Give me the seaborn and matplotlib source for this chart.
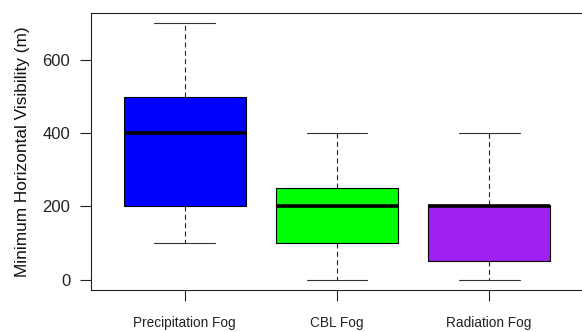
import matplotlib
matplotlib.use("Agg")
import matplotlib.pyplot as plt
import numpy as np
import pandas as pd
import seaborn as sns

# five-number summaries: min, Q1, median, Q3, max
categories = ["Precipitation Fog", "CBL Fog", "Radiation Fog"]
precip_vals = [100, 200, 400, 500, 700]
cbl_vals = [0, 100, 200, 250, 400]
radiation_vals = [0, 50, 200, 205, 400]
colors = ["#0000FF", "#00FF00", "#A020F0"]
yticks = [0, 200, 400, 600]

df = pd.DataFrame({
    "fog": np.repeat(categories, 5),
    "vis": precip_vals + cbl_vals + radiation_vals,
})

sns.set_style("ticks")
plt.rcParams["font.family"] = ["Liberation Sans", "DejaVu Sans"]

fig = plt.figure(figsize=(5.82, 3.32), dpi=100)
ax = fig.add_axes([0.1564, 0.1265, 0.8436, 0.8343])

sns.boxplot(
    data=df, x="fog", y="vis", hue="fog", palette=colors, legend=False,
    saturation=1, width=0.8, whis=np.inf, linecolor="black", linewidth=0.8,
    medianprops=dict(color="black", linewidth=2.6),
    whiskerprops=dict(linestyle=(0, (4.5, 3)), color="#222222"),
    capprops=dict(color="#333333"),
    capwidths=0.4,
    ax=ax,
)

ax.set_xlim(-0.616, 2.61)
ax.set_ylim(-28, 728)
ax.set_yticks(yticks)
ax.set_xlabel("")
ax.set_ylabel("Minimum Horizontal Visibility (m)", fontsize=12.4, color="#111111", labelpad=9)
ax.tick_params(axis="y", length=8, width=0.8, pad=7, labelsize=12, colors="#222222")
ax.tick_params(axis="x", length=8, width=0.8, pad=11, labelsize=9.8, colors="#222222")
for s in ax.spines.values():
    s.set_visible(True)
    s.set_linewidth(0.8)
    s.set_color("#222222")
# the frame's right side falls just outside the image
ax.spines["right"].set_visible(False)

fig.savefig("out.png", dpi=100)
